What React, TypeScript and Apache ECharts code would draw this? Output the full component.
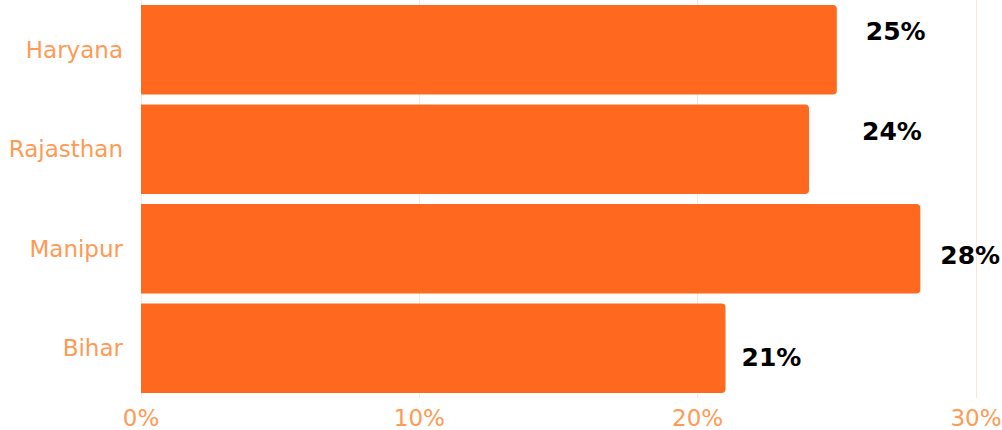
import React, { useEffect, useRef } from "react";
import * as echarts from "echarts";

const categories = ["Haryana", "Rajasthan", "Manipur", "Bihar"];
const values = [25, 24, 28, 21];
const labelOffsets: [number, number][] = [
  [24, -18],
  [48, -18],
  [15, 7],
  [11, 9],
];

export default function App() {
  const ref = useRef<HTMLDivElement>(null);
  useEffect(() => {
    if (!ref.current) return;
    const chart = echarts.init(ref.current, null, { renderer: "svg" });
    chart.setOption({
      animation: false,
      grid: {
        left: 141,
        right: 26,
        top: 0,
        bottom: 32,
        containLabel: false,
        outerBoundsMode: "none",
      },
      xAxis: {
        type: "value",
        min: 0,
        max: 30,
        interval: 10,
        axisLine: { show: false },
        axisTick: { show: false },
        splitLine: { show: true, lineStyle: { color: "#FDE6D8", width: 1 } },
        axisLabel: {
          formatter: "{value}%",
          color: "#FF9A55",
          fontFamily: "DejaVu Sans",
          fontSize: 23,
          margin: 8,
        },
      },
      yAxis: {
        type: "category",
        data: categories,
        inverse: true,
        axisLine: { show: true, lineStyle: { color: "#FDE6D8", width: 1 } },
        axisTick: { show: false },
        axisLabel: {
          color: "#FF9A55",
          fontFamily: "DejaVu Sans",
          fontSize: 23,
          margin: 18,
        },
      },
      series: [
        {
          type: "bar",
          barCategoryGap: "10%",
          itemStyle: { color: "#FF691F", borderRadius: [0, 4, 4, 0] },
          data: values.map((v, i) => ({
            value: v,
            label: { offset: labelOffsets[i] },
          })),
          label: {
            show: true,
            position: "right",
            formatter: "{c}%",
            color: "#000000",
            fontFamily: "DejaVu Sans",
            fontWeight: "bold",
            fontSize: 25,
          },
        },
      ],
    });
    return () => chart.dispose();
  }, []);
  return (
    <div
      ref={ref}
      style={{ width: 1002, height: 430, position: "absolute", left: 0, top: 0 }}
    />
  );
}
